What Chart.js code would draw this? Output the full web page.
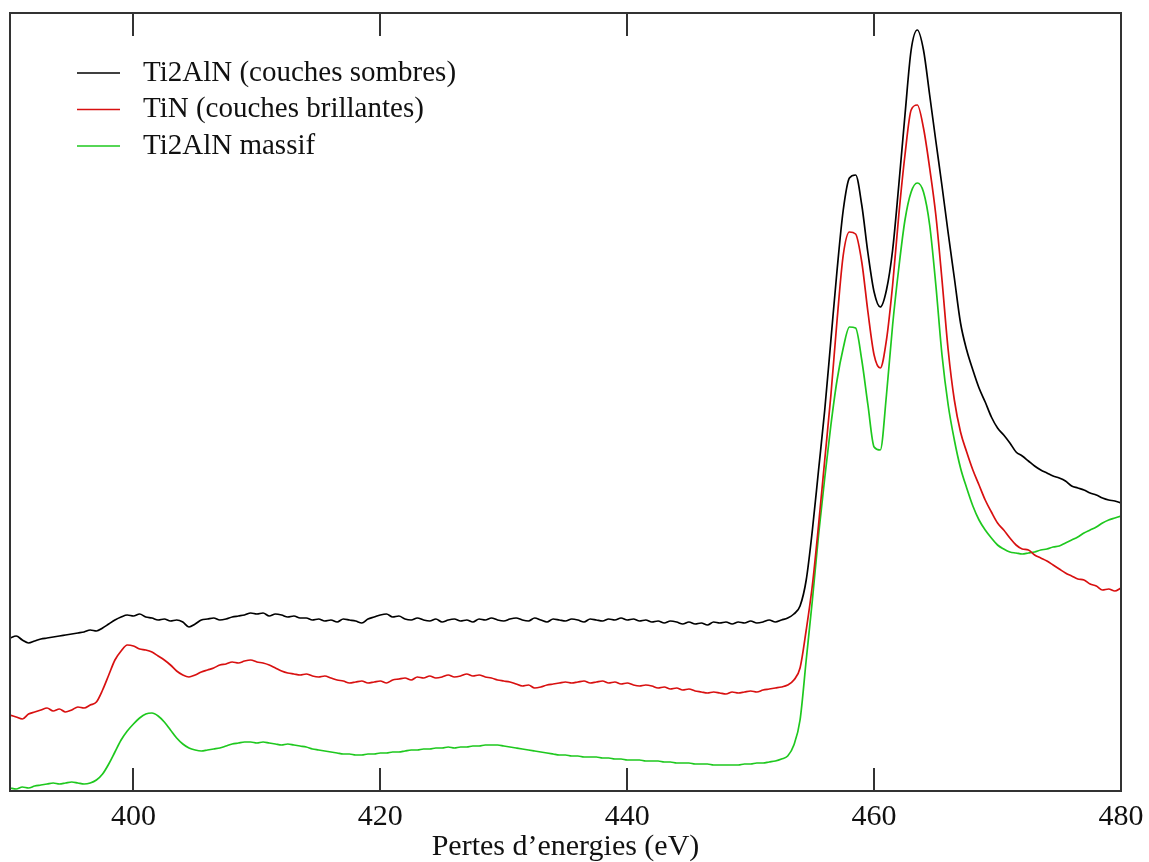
<!DOCTYPE html>
<html>
<head>
<meta charset="utf-8">
<title>Pertes d'energies</title>
<script src="https://cdn.jsdelivr.net/npm/chart.js@4.4.1/dist/chart.umd.min.js"></script>
<style>
  html, body { margin: 0; padding: 0; background: #fff; }
  #wrap { width: 1149px; height: 862px; }
</style>
</head>
<body>
<div id="wrap"><canvas id="eelsChart" width="1149" height="862"></canvas></div>
<script>
// energie (eV), pas de 0.5
const energies = [
  390, 390.5, 391, 391.5, 392, 392.5, 393, 393.5, 394, 394.5,
  395, 395.5, 396, 396.5, 397, 397.5, 398, 398.5, 399, 399.5,
  400, 400.5, 401, 401.5, 402, 402.5, 403, 403.5, 404, 404.5,
  405, 405.5, 406, 406.5, 407, 407.5, 408, 408.5, 409, 409.5,
  410, 410.5, 411, 411.5, 412, 412.5, 413, 413.5, 414, 414.5,
  415, 415.5, 416, 416.5, 417, 417.5, 418, 418.5, 419, 419.5,
  420, 420.5, 421, 421.5, 422, 422.5, 423, 423.5, 424, 424.5,
  425, 425.5, 426, 426.5, 427, 427.5, 428, 428.5, 429, 429.5,
  430, 430.5, 431, 431.5, 432, 432.5, 433, 433.5, 434, 434.5,
  435, 435.5, 436, 436.5, 437, 437.5, 438, 438.5, 439, 439.5,
  440, 440.5, 441, 441.5, 442, 442.5, 443, 443.5, 444, 444.5,
  445, 445.5, 446, 446.5, 447, 447.5, 448, 448.5, 449, 449.5,
  450, 450.5, 451, 451.5, 452, 452.5, 453, 453.5, 454, 454.5,
  455, 455.5, 456, 456.5, 457, 457.5, 458, 458.5, 459, 459.5,
  460, 460.5, 461, 461.5, 462, 462.5, 463, 463.5, 464, 464.5,
  465, 465.5, 466, 466.5, 467, 467.5, 468, 468.5, 469, 469.5,
  470, 470.5, 471, 471.5, 472, 472.5, 473, 473.5, 474, 474.5,
  475, 475.5, 476, 476.5, 477, 477.5, 478, 478.5, 479, 479.5,
  480
];

// Ti2AlN (couches sombres)
const sombres = [
  153, 155, 151, 148, 150, 152, 153, 154, 155, 156,
  157, 158, 159, 161, 160, 163, 167, 171, 174, 176,
  175, 177, 174, 173, 171, 172, 170, 171, 169, 164,
  167, 171, 172, 173, 171, 172, 174, 175, 176, 178,
  177, 178, 175, 177, 176, 174, 175, 173, 173, 171,
  172, 170, 171, 169, 172, 171, 170, 168, 172, 174,
  176, 177, 174, 175, 172, 171, 173, 171, 170, 172,
  169, 171, 172, 170, 171, 169, 172, 171, 173, 171,
  170, 172, 173, 171, 170, 173, 171, 169, 172, 171,
  170, 172, 171, 169, 172, 171, 170, 172, 171, 173,
  171, 172, 170, 171, 169, 170, 168, 170, 169, 167,
  169, 167, 168, 166, 169, 168, 169, 167, 169, 168,
  170, 168, 169, 171, 169, 171, 173, 177, 185, 211,
  261, 321, 381, 451, 521, 581, 613, 616, 586, 538,
  499, 484, 501, 541, 606, 676, 741, 761, 741, 696,
  650, 605, 558, 513, 468, 441, 421, 403, 389, 374,
  363, 356, 348, 339, 335, 330, 325, 321, 318, 315,
  313, 310, 305, 303, 301, 298, 296, 293, 291, 290,
  288
];

// TiN (couches brillantes)
const brillantes = [
  76, 74, 72, 77, 79, 81, 83, 80, 82, 79,
  81, 84, 83, 86, 89, 101, 116, 131, 140, 146,
  145, 142, 141, 139, 135, 131, 126, 120, 116, 114,
  116, 119, 121, 123, 126, 127, 129, 128, 130, 131,
  129, 128, 126, 123, 120, 118, 117, 116, 117, 115,
  114, 115, 113, 111, 110, 108, 109, 110, 108, 109,
  110, 108, 111, 112, 113, 111, 114, 113, 115, 113,
  114, 116, 114, 115, 117, 115, 116, 114, 113, 111,
  110, 109, 107, 105, 106, 103, 104, 106, 107, 108,
  109, 108, 109, 110, 108, 109, 110, 108, 109, 107,
  108, 106, 105, 106, 105, 103, 104, 102, 103, 101,
  102, 100, 99, 98, 99, 98, 97, 99, 98, 99,
  100, 99, 101, 102, 103, 104, 106, 111, 123, 161,
  206, 266, 331, 396, 471, 536, 559, 557, 529, 479,
  436, 423, 451, 506, 576, 636, 681, 686, 663, 623,
  576, 511, 441, 391, 359, 339, 321, 306, 291, 279,
  268, 261, 253, 246, 242, 241, 236, 233, 230, 226,
  222, 218, 215, 212, 211, 207, 205, 201, 202, 200,
  203
];

// Ti2AlN massif
const massif = [
  3, 2, 4, 3, 5, 6, 7, 8, 7, 8,
  9, 8, 7, 8, 11, 17, 27, 39, 51, 60,
  67, 73, 77, 78, 75, 69, 61, 53, 47, 43,
  41, 40, 41, 42, 43, 45, 47, 48, 49, 49,
  48, 49, 48, 47, 46, 47, 46, 45, 44, 42,
  41, 40, 39, 38, 37, 37, 36, 36, 37, 37,
  38, 38, 39, 39, 40, 41, 41, 42, 42, 43,
  43, 44, 43, 44, 44, 45, 45, 46, 46, 46,
  45, 44, 43, 42, 41, 40, 39, 38, 37, 36,
  36, 35, 35, 34, 34, 34, 33, 33, 32, 32,
  31, 31, 31, 30, 30, 30, 29, 29, 28, 28,
  28, 27, 27, 27, 26, 26, 26, 26, 26, 27,
  27, 28, 28, 29, 30, 32, 35, 46, 71, 131,
  191, 256, 313, 366, 411, 443, 464, 463, 431, 386,
  344, 341, 396, 466, 523, 571, 599, 608, 599, 566,
  506, 436, 386, 351, 323, 303, 285, 271, 261, 253,
  246, 242, 239, 238, 237, 238, 239, 241, 242, 244,
  245, 248, 251, 254, 258, 261, 264, 268, 271, 273,
  275
];

const xTicks = [400, 420, 440, 460, 480];

const serif = "'Liberation Serif', 'DejaVu Serif', serif";

function toPoints(ys) {
  return energies.map((e, i) => ({ x: e, y: ys[i] }));
}

// cadre + graduations vers l'interieur
const framePlugin = {
  id: "frame",
  afterDraw(chart) {
    const ctx = chart.ctx;
    const a = chart.chartArea;
    const xs = chart.scales.x;
    ctx.save();
    ctx.strokeStyle = "#333";
    ctx.lineWidth = 2;
    ctx.strokeRect(a.left, a.top, a.right - a.left, a.bottom - a.top);
    ctx.beginPath();
    xTicks.forEach((v) => {
      const px = Math.round(xs.getPixelForValue(v));
      ctx.moveTo(px, a.bottom);
      ctx.lineTo(px, a.bottom - 23);
      ctx.moveTo(px, a.top);
      ctx.lineTo(px, a.top + 23);
    });
    ctx.stroke();
    ctx.restore();
  },
};

// legende dans le coin haut gauche
const legendPlugin = {
  id: "cornerLegend",
  afterDraw(chart) {
    const ctx = chart.ctx;
    const a = chart.chartArea;
    ctx.save();
    ctx.font = "29px " + serif;
    ctx.textBaseline = "middle";
    chart.data.datasets.forEach((ds, i) => {
      const y = a.top + 60 + i * 36.5;
      ctx.strokeStyle = ds.borderColor;
      ctx.lineWidth = 1.5;
      ctx.beginPath();
      ctx.moveTo(a.left + 67, y);
      ctx.lineTo(a.left + 110, y);
      ctx.stroke();
      ctx.fillStyle = "#111";
      ctx.fillText(ds.label, a.left + 133, y);
    });
    ctx.restore();
  },
};

document.addEventListener("DOMContentLoaded", function () {
  const ctx = document.getElementById("eelsChart").getContext("2d");

  new Chart(ctx, {
    type: "line",
    data: {
      datasets: [
        {
          label: "Ti2AlN (couches sombres)",
          data: toPoints(sombres),
          borderColor: "#000000",
        },
        {
          label: "TiN (couches brillantes)",
          data: toPoints(brillantes),
          borderColor: "#d81010",
        },
        {
          label: "Ti2AlN massif",
          data: toPoints(massif),
          borderColor: "#1ec81e",
        },
      ],
    },
    options: {
      responsive: false,
      animation: false,
      devicePixelRatio: 1,
      layout: { padding: { left: 10, top: 13, right: 28, bottom: 0 } },
      elements: {
        point: { radius: 0 },
        line: { borderWidth: 1.7, cubicInterpolationMode: "monotone" },
      },
      plugins: {
        legend: { display: false },
        tooltip: { enabled: false },
      },
      scales: {
        x: {
          type: "linear",
          min: 390,
          max: 480,
          grid: { display: false },
          border: { display: false },
          ticks: {
            stepSize: 20,
            padding: 0,
            maxRotation: 0,
            color: "#111",
            font: { family: serif, size: 30 },
          },
          title: {
            display: true,
            text: "Pertes d\u2019energies (eV)",
            color: "#111",
            font: { family: serif, size: 30, lineHeight: 1.0 },
            padding: { top: 0, bottom: 0 },
          },
          afterBuildTicks(scale) {
            scale.ticks = scale.ticks.filter((t) => xTicks.includes(t.value));
          },
          afterFit(scale) {
            scale.height = 71;
            scale.paddingLeft = 0;
            scale.paddingRight = 0;
          },
        },
        y: {
          display: false,
          min: 0,
          max: 778,
        },
      },
    },
    plugins: [framePlugin, legendPlugin],
  });
});
</script>
</body>
</html>
